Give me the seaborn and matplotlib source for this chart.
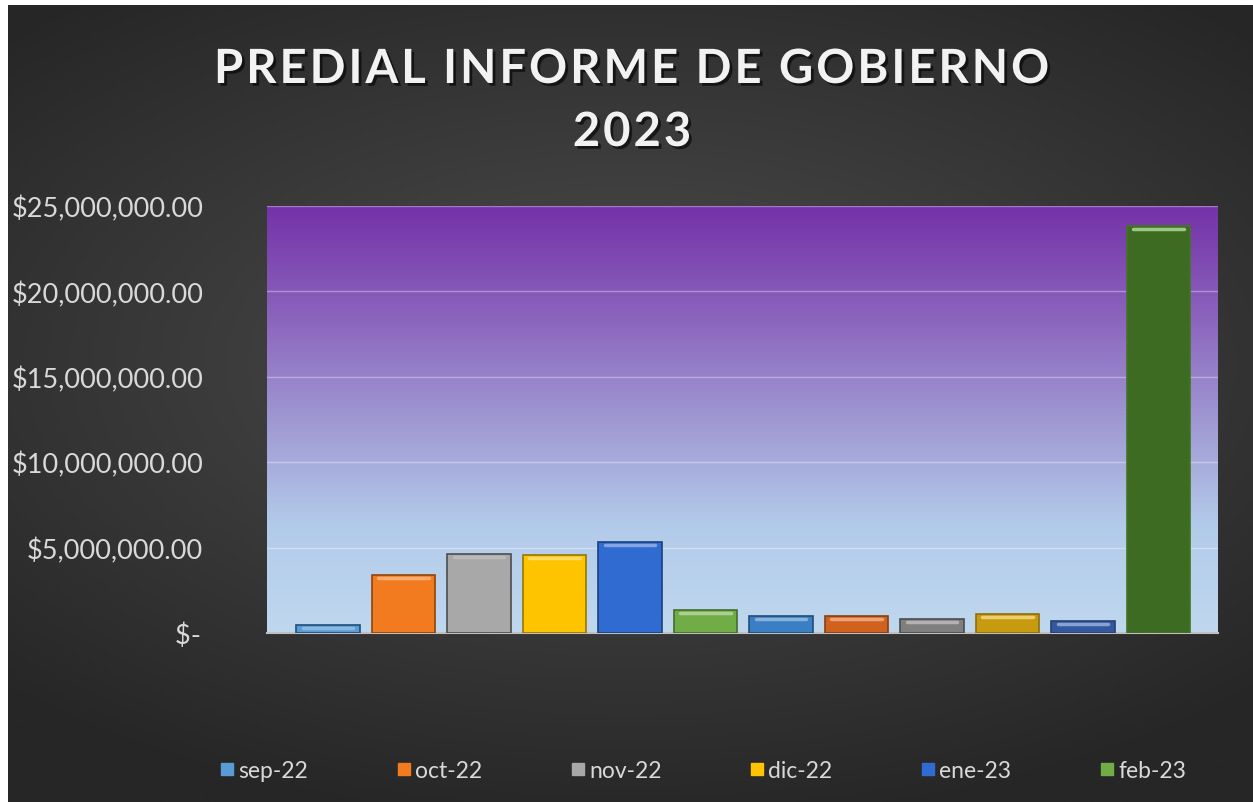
import numpy as np
import pandas as pd
import matplotlib
matplotlib.use('Agg')
import matplotlib.pyplot as plt
import matplotlib.patheffects as pe
import matplotlib.transforms as mtransforms
from matplotlib.colors import LinearSegmentedColormap
from matplotlib.lines import Line2D
from matplotlib.ticker import FuncFormatter
import seaborn as sns

# Datos
periodos = ['sep-22', 'oct-22', 'nov-22', 'dic-22', 'ene-23', 'feb-23',
            'mar-23', 'abr-23', 'may-23', 'jun-23', 'jul-23', 'ago-23']
montos = [450000, 3400000, 4650000, 4580000, 5330000, 1350000,
          1000000, 1000000, 820000, 1100000, 720000, 23800000]
leyenda = ['sep-22', 'oct-22', 'nov-22', 'dic-22', 'ene-23', 'feb-23']
colores = ['#5b9bd5', '#f27b1f', '#a8a8a8', '#ffc400', '#2f6bd0', '#70ad47',
           '#3a7fc4', '#d0621e', '#7f7f7f', '#c79a10', '#34589e', '#3d6b22']
titulo = ['PREDIAL INFORME DE GOBIERNO', '2023']

df = pd.DataFrame({'periodo': periodos, 'monto': montos})

sns.set_style('white')
plt.rcParams['font.family'] = ['Lato', 'DejaVu Sans']

fig = plt.figure(figsize=(12.53, 8.03), dpi=100)
fig.patch.set_facecolor('white')

# Fondo oscuro con degradado radial
bg = fig.add_axes([8 / 1253, 0, 1 - 8 / 1253, 1 - 6 / 803])
yy, xx = np.mgrid[-1:1:300j, -1:1:400j]
r = np.sqrt((xx * 0.9) ** 2 + ((yy + 0.1) * 1.1) ** 2)
fondo = LinearSegmentedColormap.from_list('fondo', ['#4e4e4e', '#3a3a3a', '#262626'])
bg.imshow(r, cmap=fondo, vmin=0, vmax=1.3, aspect='auto', extent=[0, 1, 0, 1])
bg.set_axis_off()

ax = fig.add_axes([267 / 1253, (803 - 634) / 803, (1218 - 267) / 1253, (634 - 207) / 803])

sns.barplot(data=df, x='periodo', y='monto', hue='periodo', palette=colores,
            saturation=1, legend=False, width=0.84, ax=ax, zorder=3)

# Efecto de bisel: bordes oscuros y brillo en la parte superior
baja = mtransforms.offset_copy(ax.transData, fig=fig, x=0, y=-3, units='dots')
for barra, c in zip(ax.patches, colores):
    barra.set_edgecolor(sns.set_hls_values(c, l=0.3))
    barra.set_linewidth(1.2)
    x0, w, h = barra.get_x(), barra.get_width(), barra.get_height()
    ax.plot([x0 + w * 0.1, x0 + w * 0.9], [h, h], transform=baja,
            color=sns.set_hls_values(c, l=0.75), lw=2.5, alpha=0.8,
            solid_capstyle='round', zorder=4)

ax.set_xlim(-0.81, 11.79)
ax.set_ylim(0, 25000000)

# Degradado del area de trazado
area = LinearSegmentedColormap.from_list('area', ['#bfd8ee', '#b3cbea', '#9f98d2', '#8a62bc', '#7432a8'])
grad = np.linspace(0, 1, 256).reshape(-1, 1)
ax.imshow(grad, cmap=area, aspect='auto', origin='lower',
          extent=[-0.81, 11.79, 0, 25000000], zorder=0)

ax.set_yticks(np.arange(0, 25000001, 5000000))
ax.yaxis.set_major_formatter(FuncFormatter(lambda v, p: '$-\u200a' if v == 0 else f'${v:,.2f}'))
ax.grid(axis='y', color='white', alpha=0.35, linewidth=1, zorder=1)
ax.set_xticks([])
ax.set_xlabel('')
ax.set_ylabel('')
ax.tick_params(axis='y', colors='#d9d9d9', labelsize=19.5, length=0, pad=46)
for s in ['top', 'right', 'left']:
    ax.spines[s].set_visible(False)
ax.spines['bottom'].set_color('#bfbfbf')
ax.spines['bottom'].set_linewidth(1.5)

# Titulo con espaciado entre letras
sombra = [pe.withSimplePatchShadow(offset=(2, -2), shadow_rgbFace='black', alpha=0.6)]
for linea, y in zip(titulo, [70, 133]):
    fig.text(632 / 1253, 1 - y / 803, '\u200a'.join(linea), ha='center', va='center',
             fontsize=34, fontweight='bold', color='#f2f2f2', path_effects=sombra)

handles = [Line2D([0], [0], marker='s', linestyle='', markersize=8,
                  markerfacecolor=c, markeredgecolor=c) for c in colores[:6]]
fig.legend(handles, leyenda, loc='center', bbox_to_anchor=(702 / 1253, 1 - 772 / 803),
           ncol=6, frameon=False, fontsize=16.5, labelcolor='#d9d9d9',
           handletextpad=0.1, columnspacing=3.76, handlelength=0.8)

fig.savefig('out.png', dpi=100, facecolor=fig.get_facecolor())
